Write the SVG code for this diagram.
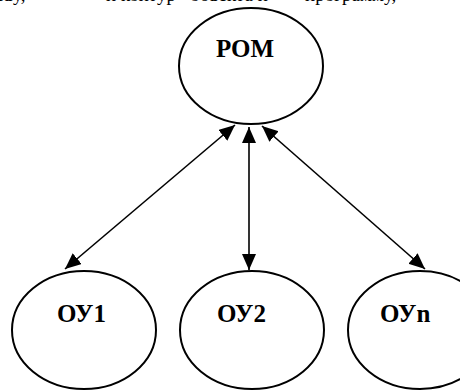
<svg xmlns="http://www.w3.org/2000/svg" width="460" height="391" viewBox="0 0 460 391">
<style>
.node ellipse{fill:#fff;stroke:#000;stroke-width:2}
.lbl{font-family:"Liberation Serif","Times New Roman",serif;font-weight:bold;font-size:25px;fill:#000}
.top{font-family:"Liberation Serif","Times New Roman",serif;font-size:19px;fill:#000}
.edge{stroke:#000;stroke-width:1.6;fill:none;marker-start:url(#ah);marker-end:url(#ah)}
</style>
<defs>
<marker id="ah" markerUnits="userSpaceOnUse" markerWidth="17" markerHeight="15" refX="16" refY="7" orient="auto-start-reverse">
<path d="M0,0 L16,7 L0,14 Z" fill="#000"/>
</marker>
</defs>
<rect width="460" height="391" fill="#fff"/>
<text class="top" y="1"><tspan x="-12">ству,</tspan><tspan x="106">и контур</tspan><tspan x="190">объекта и</tspan><tspan x="305">программу,</tspan></text>
<g id="connectors">
<line class="edge" x1="235" y1="125" x2="65" y2="269"/>
<line class="edge" x1="249" y1="127" x2="249" y2="270"/>
<line class="edge" x1="262" y1="126" x2="425" y2="269"/>
</g>
<g id="ROM" class="node">
<ellipse cx="251" cy="66" rx="72" ry="58"/>
<text class="lbl" x="216" y="57">РОМ</text>
</g>
<g id="OU1" class="node">
<ellipse cx="84" cy="330" rx="72" ry="59"/>
<text class="lbl" x="57" y="322">ОУ1</text>
</g>
<g id="OU2" class="node">
<ellipse cx="252" cy="330" rx="72" ry="59"/>
<text class="lbl" x="217" y="322">ОУ2</text>
</g>
<g id="OUn" class="node">
<ellipse cx="420" cy="330" rx="72" ry="59"/>
<text class="lbl" x="380" y="322">ОУn</text>
</g>
</svg>
